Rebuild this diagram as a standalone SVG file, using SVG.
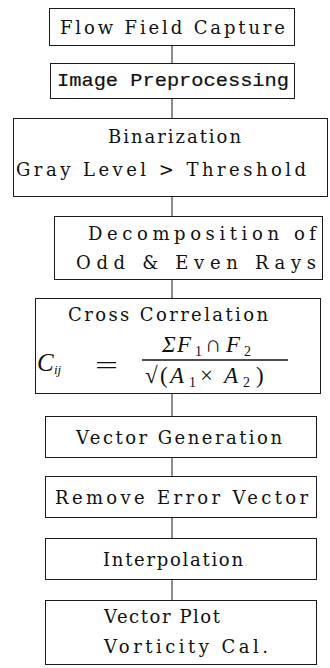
<svg xmlns="http://www.w3.org/2000/svg" width="330" height="668" viewBox="0 0 330 668">
<style>
.box{fill:#fff;stroke:#1a1a1a;stroke-width:1}
.t{font-family:"DejaVu Serif","Liberation Serif",serif;font-size:18px;fill:#111}
.m{font-family:"Liberation Mono","Courier New",monospace;font-size:19px;fill:#111;stroke:#111;stroke-width:0.2}
.f{font-family:"Liberation Serif","Times New Roman",serif;fill:#111}
.i{font-style:italic}
.c{stroke:#1a1a1a;stroke-width:1;fill:none}
</style>
<rect width="330" height="668" fill="#fff"/>
<g id="connectors">
<line class="c" x1="172" y1="45" x2="172" y2="63"/>
<line class="c" x1="172" y1="98" x2="172" y2="118"/>
<line class="c" x1="172" y1="196" x2="172" y2="216"/>
<line class="c" x1="172" y1="279" x2="172" y2="298"/>
<line class="c" x1="172" y1="393" x2="172" y2="416"/>
<line class="c" x1="172" y1="457" x2="172" y2="476"/>
<line class="c" x1="172" y1="517" x2="172" y2="538"/>
<line class="c" x1="172" y1="579" x2="172" y2="600"/>
</g>
<g id="capture">
<rect class="box" x="49.5" y="8.5" width="245" height="37"/>
<text class="t" x="60" y="34" textLength="225" lengthAdjust="spacing">Flow Field Capture</text>
</g>
<g id="preprocessing">
<rect class="box" x="50.5" y="63.5" width="244" height="35"/>
<text class="m" x="57" y="86" textLength="232" lengthAdjust="spacingAndGlyphs">Image Preprocessing</text>
</g>
<g id="binarization">
<rect class="box" x="13.5" y="118.5" width="314" height="78"/>
<text class="t" x="108" y="143" textLength="133" lengthAdjust="spacing">Binarization</text>
<text class="t" x="16" y="176" textLength="290" lengthAdjust="spacing">Gray Level &gt; Threshold</text>
</g>
<g id="decomposition">
<rect class="box" x="54.5" y="216.5" width="268" height="63"/>
<text class="t" x="88" y="240" textLength="228" lengthAdjust="spacing">Decomposition of</text>
<text class="t" x="76" y="269" textLength="240" lengthAdjust="spacing">Odd &amp; Even Rays</text>
</g>
<g id="correlation">
<rect class="box" x="35.5" y="298.5" width="285" height="95"/>
<text class="t" x="68" y="321" textLength="200" lengthAdjust="spacing">Cross Correlation</text>
<text class="f i" x="37" y="371" font-size="25">C</text>
<text class="f i" x="54" y="374" font-size="13">ij</text>
<text class="f" x="95" y="373" font-size="24" textLength="23" lengthAdjust="spacingAndGlyphs">=</text>
<text class="f i" x="162" y="352" font-size="23">Σ</text>
<text class="f i" x="177" y="352" font-size="23">F</text>
<text class="f" x="195" y="356" font-size="14">1</text>
<text class="f" x="205" y="352" font-size="23">∩</text>
<text class="f i" x="226" y="352" font-size="23">F</text>
<text class="f" x="244" y="356" font-size="14">2</text>
<line x1="142" y1="360" x2="288" y2="360" stroke="#111" stroke-width="1.6"/>
<text class="f" x="145" y="383" font-size="23">√</text>
<text class="f" x="160" y="383" font-size="23">(</text>
<text class="f i" x="170" y="383" font-size="23">A</text>
<text class="f" x="189" y="387" font-size="14">1</text>
<text class="f" x="200" y="383" font-size="23">×</text>
<text class="f i" x="224" y="383" font-size="23">A</text>
<text class="f" x="243" y="387" font-size="14">2</text>
<text class="f" x="256" y="383" font-size="23">)</text>
</g>
<g id="generation">
<rect class="box" x="45.5" y="416.5" width="271" height="41"/>
<text class="t" x="76" y="444" textLength="206" lengthAdjust="spacing">Vector Generation</text>
</g>
<g id="remove">
<rect class="box" x="45.5" y="476.5" width="271" height="41"/>
<text class="t" x="55" y="504" textLength="253" lengthAdjust="spacing">Remove Error Vector</text>
</g>
<g id="interpolation">
<rect class="box" x="45.5" y="538.5" width="271" height="41"/>
<text class="t" x="103" y="566" textLength="140" lengthAdjust="spacing">Interpolation</text>
</g>
<g id="plot">
<rect class="box" x="45.5" y="600.5" width="271" height="64"/>
<text class="t" x="104" y="623" textLength="116" lengthAdjust="spacing">Vector Plot</text>
<text class="t" x="104" y="653" textLength="164" lengthAdjust="spacing">Vorticity Cal.</text>
</g>
</svg>
